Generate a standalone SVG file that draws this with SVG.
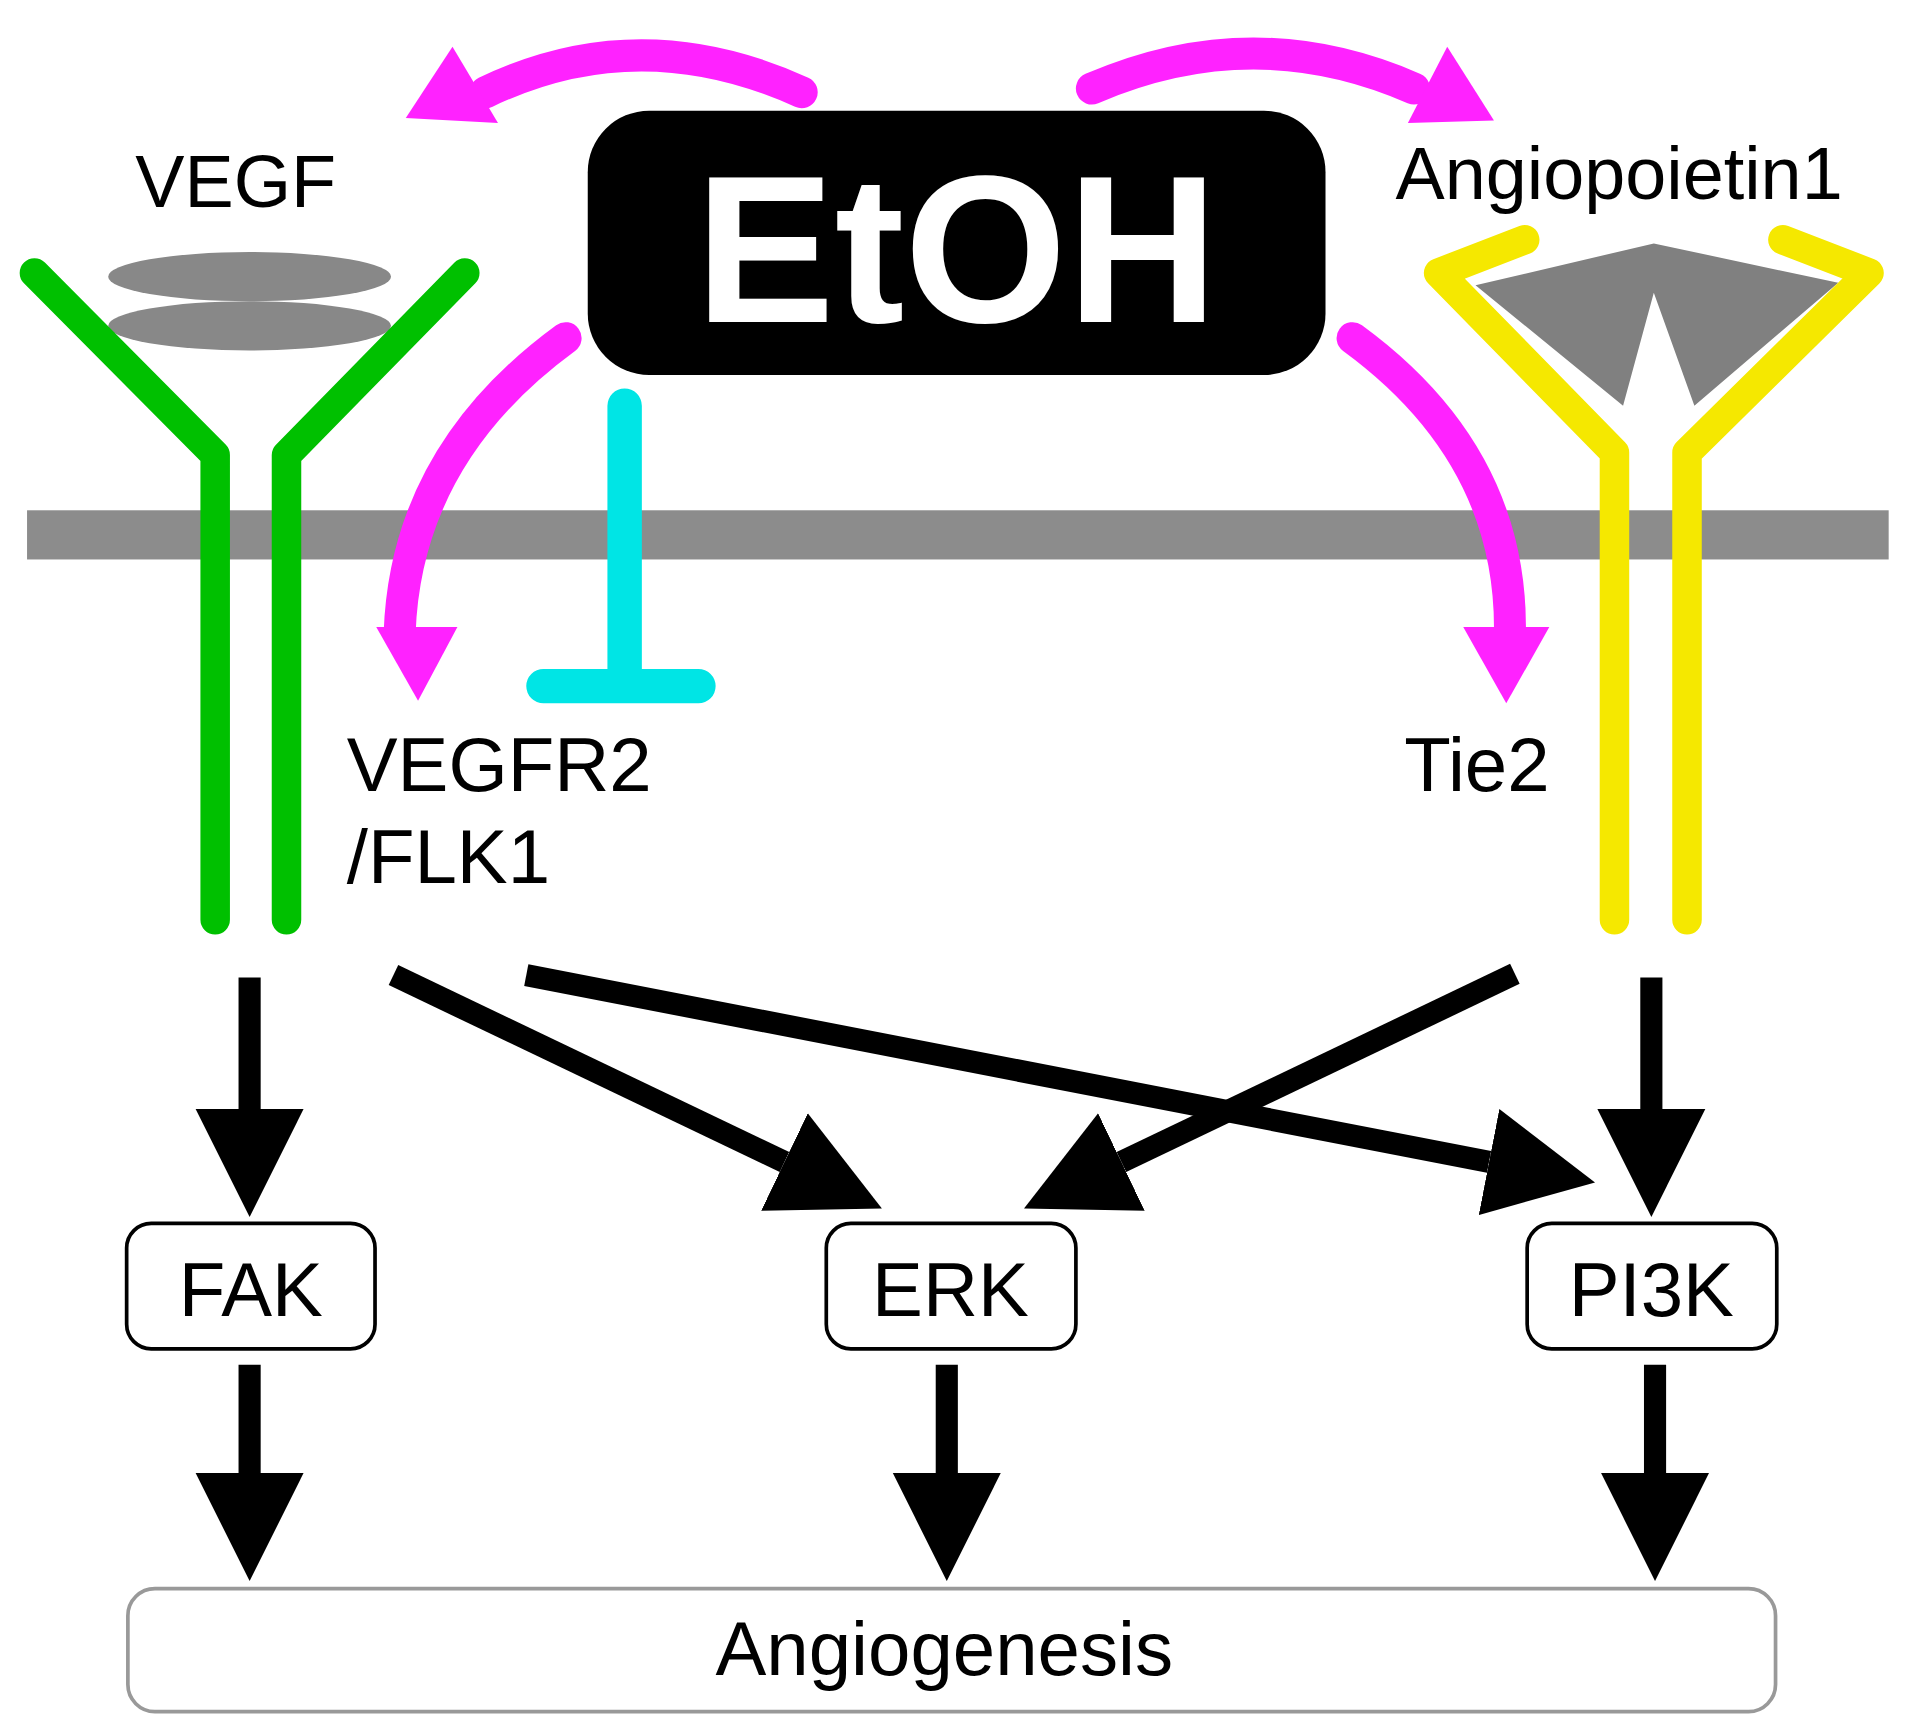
<svg xmlns="http://www.w3.org/2000/svg" width="1928" height="1732" viewBox="0 0 1928 1732">
<defs>
<style>
.t{font-family:"Liberation Sans",Arial,sans-serif;fill:#000}
.blk{stroke:#000;stroke-width:18;fill:none;marker-end:url(#ah)}
.mag{stroke:#ff22ff;stroke-width:26;fill:none;stroke-linecap:round}
.grn{stroke:#00c000;stroke-width:24;fill:none;stroke-linecap:round;stroke-linejoin:round}
.yel{stroke:#f5e800;stroke-width:24;fill:none;stroke-linecap:round;stroke-linejoin:round}
.box{fill:#fff;stroke:#000;stroke-width:3}
</style>
<marker id="ah" markerUnits="userSpaceOnUse" markerWidth="90" markerHeight="90" refX="0" refY="40" orient="auto" viewBox="0 0 82 80">
<path d="M0,0 L80,40 L0,80 Z" fill="#000"/>
</marker>
</defs>
<rect width="1928" height="1732" fill="#fff"/>
<g transform="scale(1.2296)">
<rect id="membrane" x="22" y="415" width="1514" height="40" fill="#8c8c8c"/>
<g id="vegf-receptor">
<ellipse cx="203" cy="225" rx="115" ry="20" fill="#888"/>
<ellipse cx="203" cy="265" rx="115" ry="20" fill="#888"/>
<path class="grn" d="M28,222 L175,370 L175,748"/>
<path class="grn" d="M378,222 L233,370 L233,748"/>
</g>
<g id="tie2-receptor">
<polygon points="1200,232 1345,198 1495,230 1378,330 1345,238 1320,330" fill="#808080"/>
<path class="yel" d="M1240,195 L1170,222 L1313,368 L1313,748"/>
<path class="yel" d="M1450,195 L1520,222 L1372,368 L1372,748"/>
</g>
<g id="etoh">
<rect x="478" y="90" width="600" height="215" rx="50" fill="#000"/>
<text class="t" x="778" y="262" text-anchor="middle" font-size="170" font-weight="bold" style="fill:#fff">EtOH</text>
</g>
<g id="labels">
<text class="t" x="110" y="168" font-size="60">VEGF</text>
<text class="t" x="1135" y="162" font-size="60">Angiopoietin1</text>
<text class="t" x="282" y="643" font-size="62">VEGFR2</text>
<text class="t" x="282" y="718" font-size="62">/FLK1</text>
<text class="t" x="1142" y="643" font-size="62">Tie2</text>
</g>
<g id="fak"><rect class="box" x="103" y="995" width="202" height="102" rx="20"/><text class="t" x="204" y="1070" font-size="62" text-anchor="middle">FAK</text></g>
<g id="erk"><rect class="box" x="672" y="995" width="203" height="102" rx="20"/><text class="t" x="773" y="1070" font-size="62" text-anchor="middle">ERK</text></g>
<g id="pi3k"><rect class="box" x="1242" y="995" width="203" height="102" rx="20"/><text class="t" x="1343" y="1070" font-size="62" text-anchor="middle">PI3K</text></g>
<g id="angiogenesis"><rect x="104" y="1292" width="1340" height="100" rx="22" fill="#fff" stroke="#999" stroke-width="3"/><text class="t" x="768" y="1362" font-size="62" text-anchor="middle">Angiogenesis</text></g>
<g id="connectors">
<path class="mag" d="M652,75 Q520,15 395,75"/>
<polygon points="330,96 368,38 405,100" fill="#ff22ff"/>
<path class="mag" d="M888,72 Q1020,15 1150,72"/>
<polygon points="1215,98 1177,38 1145,100" fill="#ff22ff"/>
<path class="mag" d="M460,275 Q330,370 325,515"/>
<polygon points="340,570 306,510 372,510" fill="#ff22ff"/>
<path class="mag" d="M1100,275 Q1230,370 1228,515"/>
<polygon points="1225,572 1190,510 1260,510" fill="#ff22ff"/>
<path d="M508,330 L508,555 M442,558 L568,558" stroke="#00e5e5" stroke-width="28" stroke-linecap="round" fill="none"/>
<path class="blk" d="M203,795 L203,902"/>
<path class="blk" d="M320,793 L638,945"/>
<path class="blk" d="M428,793 L1211,945"/>
<path class="blk" d="M1232,792 L912,945"/>
<path class="blk" d="M1343,795 L1343,902"/>
<path class="blk" d="M203,1110 L203,1198"/>
<path class="blk" d="M770,1110 L770,1198"/>
<path class="blk" d="M1346,1110 L1346,1198"/>
</g>
</g>
</svg>
